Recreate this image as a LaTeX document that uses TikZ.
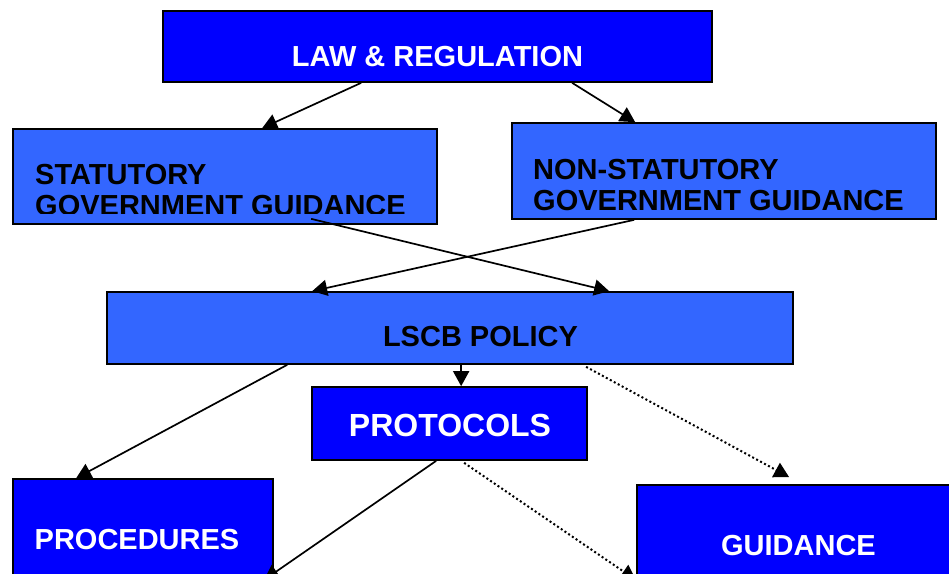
\documentclass[tikz,border=0pt]{standalone}
\usepackage{fontspec}
\setmainfont{Liberation Sans}
\usetikzlibrary{arrows.meta,
                calc}
\definecolor{darkblue}{HTML}{0000FF}
\definecolor{lightblue}{HTML}{3366FF}

\begin{document}
\begin{tikzpicture}[x=1pt, y=-1pt]

\tikzstyle{darkbox}=[rectangle, draw=black, line width=1.7pt, fill=darkblue, inner sep=0pt]
\tikzstyle{lightbox}=[rectangle, draw=black, line width=1.7pt, fill=lightblue, inner sep=0pt]
\tikzstyle{boxtext}=[inner sep=0pt, font=\fontsize{29}{31}\selectfont\bfseries]
\tikzstyle{arrow}=[-{Triangle[length=15pt,width=16pt]}, line width=1.7pt]
\tikzstyle{dotarrow}=[arrow, line width=2pt, dash pattern=on 2pt off 2.5pt]

\useasboundingbox (0,0) rectangle (949,573);
\clip (0,0) rectangle (949,573);

% boxes
\node (law) [darkbox, minimum width=549pt, minimum height=71pt] at (437.5,46.5) {};
\node (stat) [lightbox, minimum width=424pt, minimum height=95pt] at (225,176.5) {};
\node (nonstat) [lightbox, minimum width=424pt, minimum height=96pt] at (724,171) {};
\node (policy) [lightbox, minimum width=686pt, minimum height=72pt] at (450,328) {};
\node (prot) [darkbox, minimum width=275pt, minimum height=73pt] at (449.5,423.5) {};
\node (proc) [darkbox, minimum width=260pt, minimum height=122pt] at (143,540) {};
\node (guid) [darkbox, minimum width=326pt, minimum height=120pt] at (800,545) {};

\coordinate (procend) at (264,580);
\coordinate (guidend) at (636,580);

% texts
\node (lawtxt) [boxtext, text=white, anchor=base] at (437.5,66) {LAW \& REGULATION};
\begin{scope}
  \clip (stat.north west) rectangle ([yshift=11.5pt]stat.south east);
  \node (stattxt) [boxtext, align=left, anchor=north west] at (35,164) {STATUTORY\\GOVERNMENT GUIDANCE};
\end{scope}
\node (nonstattxt) [boxtext, align=left, anchor=north west] at (533,159) {NON-STATUTORY\\GOVERNMENT GUIDANCE};
\node (policytxt) [boxtext, anchor=base] at (480.5,346) {LSCB POLICY};
\node (prottxt) [boxtext, text=white, anchor=base, font=\fontsize{32}{34}\selectfont\bfseries] at (450,436) {PROTOCOLS};
\node (proctxt) [boxtext, text=white, anchor=base] at (137,549) {PROCEDURES};
\node (guidtxt) [boxtext, text=white, anchor=base] at (798.5,555) {GUIDANCE};

% connectors
\draw [arrow] ($(law.south west)+(199,0)$) -- ($(stat.north west)+(250,0)$);
\draw [arrow] ($(law.south west)+(410,0)$) -- ($(nonstat.north west)+(124,0)$);
\draw [arrow] ($(stat.south west)+(299,-6)$) -- ($(policy.north west)+(503,0)$);
\draw [arrow] ($(nonstat.south west)+(123,0)$) -- ($(policy.north west)+(206,0)$);
\draw [arrow] ($(policy.south west)+(355,0)$) -- ($(prot.north west)+(150,0)$);
\draw [arrow] ($(policy.south west)+(181,0)$) -- ($(proc.north west)+(64,0)$);
\draw [dotarrow] ($(policy.south west)+(480,2)$) -- ($(guid.north west)+(153,-7)$);
\draw [arrow] ($(prot.south west)+(125,0)$) -- (procend);
\draw [dotarrow] ($(prot.south west)+(153,2)$) -- (guidend);

\end{tikzpicture}
\end{document}
